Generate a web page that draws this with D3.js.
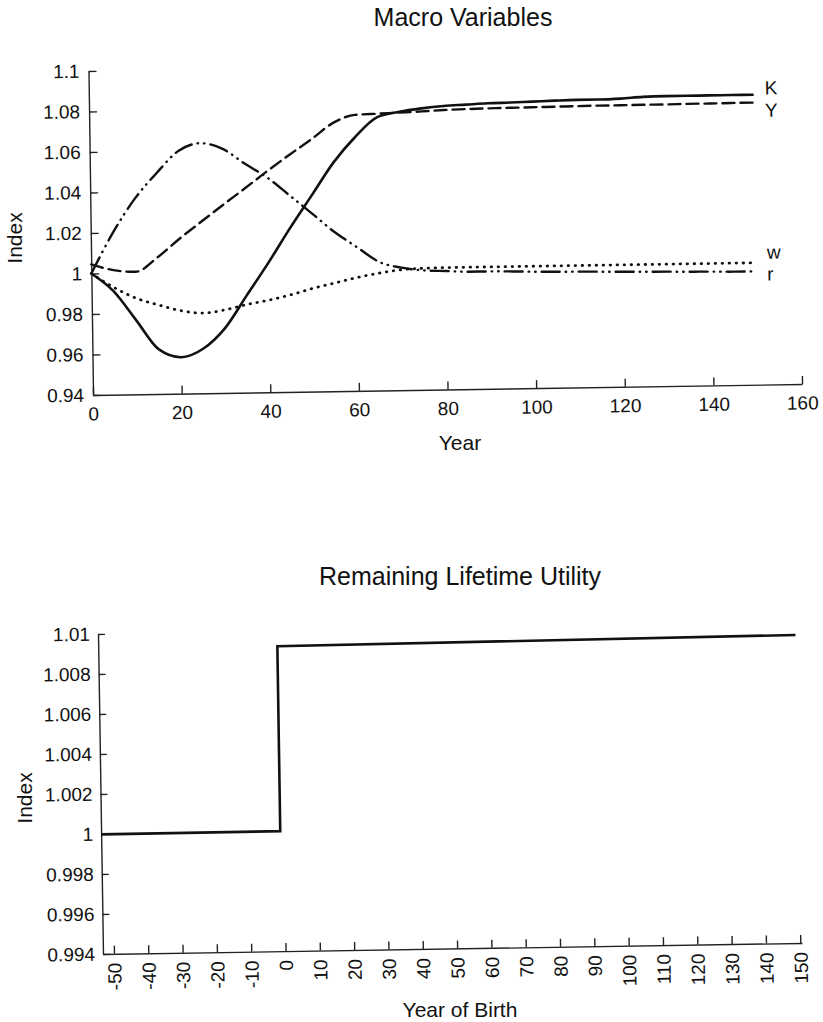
<!DOCTYPE html>
<html>
<head>
<meta charset="utf-8">
<script src="https://cdn.jsdelivr.net/npm/d3@7"></script>
<style>
  body { margin: 0; background: #fff; }
  text { font-family: "Liberation Sans", Arial, Helvetica, sans-serif; fill: #111; }
  .axis path, .axis line { stroke: #222; stroke-width: 1.4; }
  .axis text { font-size: 19px; fill: #111; }
</style>
</head>
<body>
<svg width="823" height="1022"></svg>
<script>
// ---- top panel data (index values) ----
var years = [0, 5, 10, 15, 20, 25, 30, 35, 40, 45, 50, 55, 60, 65, 70, 75, 80, 85, 90, 95,
             100, 105, 110, 115, 120, 125, 130, 135, 140, 145, 150];
var K = [1.000, 0.991, 0.9765, 0.962, 0.958, 0.962, 0.972, 0.988, 1.004, 1.021, 1.037, 1.053, 1.0655,
         1.075, 1.0775, 1.079, 1.080, 1.0805, 1.081, 1.0812, 1.0815, 1.0818, 1.082, 1.082, 1.0823,
         1.083, 1.0832, 1.0832, 1.0832, 1.0832, 1.0832];
var Y = [1.0045, 1.0015, 1.0005, 1.0075, 1.0165, 1.0248, 1.033, 1.041, 1.0492, 1.057, 1.0645, 1.0725,
         1.0763, 1.0767, 1.0771, 1.0775, 1.078, 1.0783, 1.0785, 1.0786, 1.0787, 1.0788, 1.0789, 1.079,
         1.079, 1.0791, 1.0791, 1.0792, 1.0792, 1.0793, 1.0793];
var w = [1.000, 0.993, 0.9875, 0.984, 0.981, 0.9796, 0.981, 0.9835, 0.9855, 0.988, 0.991, 0.9935,
         0.996, 0.998, 0.9995, 1.000, 1.0002, 1.0002, 1.0002, 1.0002, 1.0002, 1.0002, 1.0002, 1.0002,
         1.0002, 1.0002, 1.0002, 1.0002, 1.0002, 1.0002, 1.0002];
var r = [1.000, 1.020, 1.0365, 1.049, 1.0598, 1.0635, 1.0605, 1.053, 1.046, 1.037, 1.0279, 1.0186,
         1.011, 1.0035, 1.0005, 0.999, 0.9985, 0.998, 0.998, 0.9978, 0.9975, 0.9973, 0.9972, 0.997,
         0.9968, 0.9966, 0.9965, 0.9963, 0.9962, 0.996, 0.996];
var seriesNames = ["K", "Y", "w", "r"];
var topXTicks = [0, 20, 40, 60, 80, 100, 120, 140, 160];
var topYTicks = [0.94, 0.96, 0.98, 1, 1.02, 1.04, 1.06, 1.08, 1.1];
var topYLabels = ["0.94", "0.96", "0.98", "1", "1.02", "1.04", "1.06", "1.08", "1.1"];

// ---- bottom panel data ----
var birthYears = [-53.2, -1, -1, 150];
var utility = [0.99998, 1.0000, 1.00925, 1.0094];
var botXTicks = [-50, -40, -30, -20, -10, 0, 10, 20, 30, 40, 50, 60, 70, 80, 90, 100, 110, 120, 130, 140, 150];
var botYTicks = [0.994, 0.996, 0.998, 1, 1.002, 1.004, 1.006, 1.008, 1.01];
var botYLabels = ["0.994", "0.996", "0.998", "1", "1.002", "1.004", "1.006", "1.008", "1.01"];

var svg = d3.select("svg");

// the scan is a little tilted, so each plot sits in a slightly rotated frame
var topW = 709, topH = 324;
var topG = svg.append("g")
    .attr("transform", "matrix(1,-0.0155,0.014,1,88.5,71)");

var x1 = d3.scaleLinear().domain([0, 160]).range([0, topW]);
var y1 = d3.scaleLinear().domain([0.94, 1.1]).range([topH, 0]);

topG.append("g").attr("class", "axis")
    .attr("transform", "translate(0," + topH + ")")
    .call(d3.axisBottom(x1).tickValues(topXTicks).tickSizeInner(-8).tickSizeOuter(0).tickPadding(12)
      .tickFormat(function(d) { return String(d); }));
topG.append("g").attr("class", "axis")
    .call(d3.axisLeft(y1).tickValues(topYTicks).tickSizeInner(-8).tickSizeOuter(0).tickPadding(9)
      .tickFormat(function(d, i) { return topYLabels[i]; }));

var styles = {
  K: { width: 2.6, dash: null },
  Y: { width: 2.4, dash: "12,6" },
  w: { width: 2.8, dash: "0.5,6.5" },
  r: { width: 2.4, dash: "18,6,0.5,6,0.5,6" }
};
var values = { K: K, Y: Y, w: w, r: r };

var line1 = d3.line()
    .x(function(d) { return x1(d[0]); })
    .y(function(d) { return y1(d[1]); })
    .curve(d3.curveMonotoneX);

seriesNames.forEach(function(name) {
  var pts = years.map(function(yr, i) { return [yr, values[name][i]]; });
  topG.append("path")
    .datum(pts)
    .attr("fill", "none")
    .attr("stroke", "#111")
    .attr("stroke-width", styles[name].width)
    .attr("stroke-linecap", styles[name].dash ? "round" : "butt")
    .attr("stroke-dasharray", styles[name].dash)
    .attr("d", line1);
});

// end labels
var labelDy = { K: "0em", Y: "0.75em", w: "-0.2em", r: "0.5em" };
seriesNames.forEach(function(name) {
  var v = values[name];
  topG.append("text")
    .attr("x", x1(152.5))
    .attr("y", y1(v[v.length - 1]))
    .attr("dy", labelDy[name])
    .style("font-size", "19px")
    .text(name);
});

// ---- bottom panel ----
var botW = 699, botH = 320;
var botG = svg.append("g")
    .attr("transform", "matrix(1,-0.0158,0.0156,1,98,634)");

var x2 = d3.scaleLinear().domain([-53.2, 150.5]).range([0, botW]);
var y2 = d3.scaleLinear().domain([0.994, 1.01]).range([botH, 0]);

var xAxis2 = botG.append("g").attr("class", "axis")
    .attr("transform", "translate(0," + botH + ")")
    .call(d3.axisBottom(x2).tickValues(botXTicks).tickSizeInner(-8).tickSizeOuter(0).tickPadding(9)
      .tickFormat(function(d) { return String(d); }));
xAxis2.selectAll("text")
    .attr("transform", "rotate(-90)")
    .attr("text-anchor", "end")
    .attr("x", -9)
    .attr("y", 0)
    .attr("dy", "0.35em");

botG.append("g").attr("class", "axis")
    .call(d3.axisLeft(y2).tickValues(botYTicks).tickSizeInner(-7).tickSizeOuter(0).tickPadding(8)
      .tickFormat(function(d, i) { return botYLabels[i]; }));

botG.append("path")
    .datum(birthYears.map(function(b, i) { return [b, utility[i]]; }))
    .attr("fill", "none")
    .attr("stroke", "#111")
    .attr("stroke-width", 2.6)
    .attr("d", d3.line()
      .x(function(d) { return x2(d[0]); })
      .y(function(d) { return y2(d[1]); }));

// ---- titles and axis names ----
svg.append("text").attr("x", 463).attr("y", 26).attr("text-anchor", "middle")
    .style("font-size", "25px").text("Macro Variables");
svg.append("text").attr("x", 460).attr("y", 450).attr("text-anchor", "middle")
    .style("font-size", "21px").text("Year");
svg.append("text").attr("transform", "translate(22,238) rotate(-90)").attr("text-anchor", "middle")
    .style("font-size", "21px").text("Index");

svg.append("text").attr("x", 460).attr("y", 585).attr("text-anchor", "middle")
    .style("font-size", "25px").text("Remaining Lifetime Utility");
svg.append("text").attr("x", 460).attr("y", 1017).attr("text-anchor", "middle")
    .style("font-size", "21px").text("Year of Birth");
svg.append("text").attr("transform", "translate(32,798) rotate(-90)").attr("text-anchor", "middle")
    .style("font-size", "21px").text("Index");
</script>
</body>
</html>
